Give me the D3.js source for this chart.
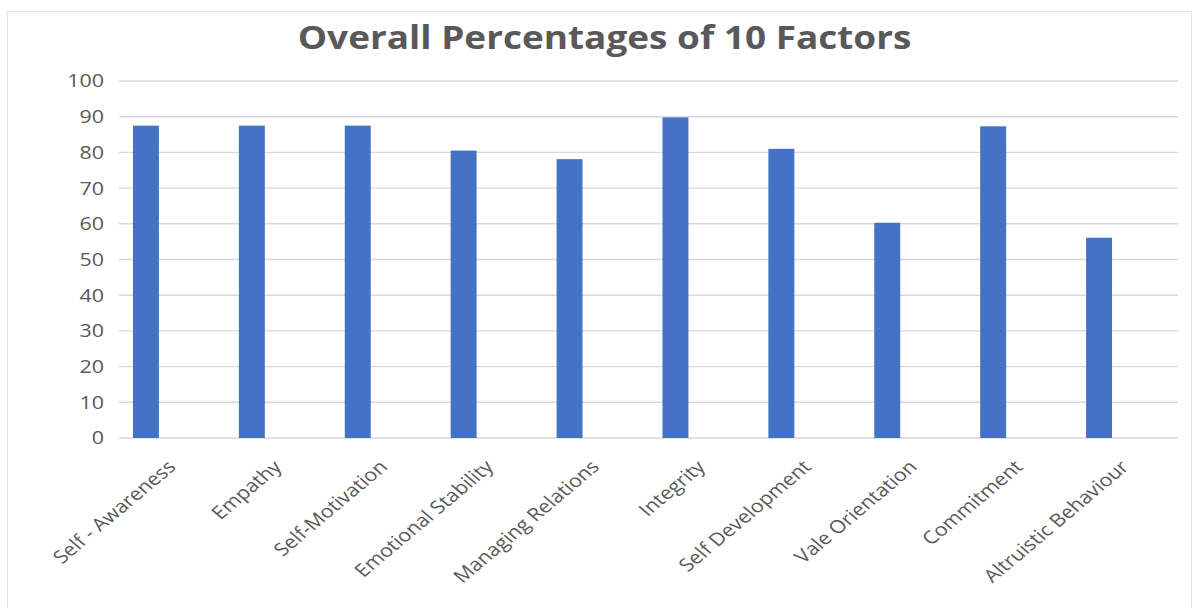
<!DOCTYPE html>
<html>
<head>
<meta charset="utf-8">
<script src="https://cdn.jsdelivr.net/npm/d3@7"></script>
<style>
  html, body { margin: 0; padding: 0; background: #ffffff; }
  svg { display: block; }
  text { font-family: "Open Sans", "Noto Sans", sans-serif; fill: #595959; }
</style>
</head>
<body>
<svg id="chart" width="1195" height="608"></svg>
<script>
// Factor names shown along the category axis
const categories = [
  "Self - Awareness", "Empathy", "Self-Motivation", "Emotional Stability",
  "Managing Relations", "Integrity", "Self Development", "Vale Orientation",
  "Commitment", "Altruistic Behaviour"
];
// Overall percentage for each factor
const percentages = [87.5, 87.5, 87.5, 80.5, 78.1, 89.8, 81.0, 60.3, 87.3, 56.1];
// Value axis ticks
const yTicks = [0, 10, 20, 30, 40, 50, 60, 70, 80, 90, 100];
const chartTitle = "Overall Percentages of 10 Factors";

// text is drawn slightly widened horizontally
const textStretch = 1.19;

const svg = d3.select("#chart");

// chart frame
svg.append("rect")
  .attr("x", 7.5).attr("y", 11.5)
  .attr("width", 1184).attr("height", 620)
  .attr("fill", "#ffffff")
  .attr("stroke", "#e3e3e3")
  .attr("stroke-width", 1);

const y = d3.scaleLinear().domain([0, 100]).range([438, 81]);

// category slots for gridlines and axis labels
const xAxisBand = d3.scaleBand().domain(categories).range([119, 1178]).padding(0);
// category slots for the columns
const xBars = d3.scaleBand().domain(categories).range([93, 1152]).padding(0);
const barWidth = xBars.bandwidth() * 0.245;

// horizontal gridlines
svg.append("g")
  .selectAll("line")
  .data(yTicks)
  .join("line")
  .attr("x1", xAxisBand.range()[0])
  .attr("x2", xAxisBand.range()[1])
  .attr("y1", d => y(d))
  .attr("y2", d => y(d))
  .attr("stroke", "#d9d9d9")
  .attr("stroke-width", 1.4);

// value axis labels
svg.append("g")
  .selectAll("text")
  .data(yTicks)
  .join("text")
  .attr("transform", d => `translate(104,${y(d)}) scale(${textStretch},1)`)
  .attr("text-anchor", "end")
  .attr("dy", "0.36em")
  .attr("font-size", 18)
  .text(d => d3.format("d")(d));

// columns
svg.append("g")
  .selectAll("rect")
  .data(categories.map((c, i) => ({ c, v: percentages[i] })))
  .join("rect")
  .attr("x", d => xBars(d.c) + (xBars.bandwidth() - barWidth) / 2)
  .attr("y", d => y(d.v))
  .attr("width", barWidth)
  .attr("height", d => y(0) - y(d.v))
  .attr("fill", "#4472c4");

// rotated category labels
svg.append("g")
  .selectAll("text")
  .data(categories)
  .join("text")
  .attr("transform", d => `translate(${xAxisBand(d) + xAxisBand.bandwidth() / 2 + 5},468) scale(${textStretch},1) rotate(-45)`)
  .attr("text-anchor", "end")
  .attr("font-size", 18)
  .text(d => d);

// title
svg.append("text")
  .attr("transform", `translate(604.5,49) scale(1.12,1)`)
  .attr("text-anchor", "middle")
  .attr("font-size", 33)
  .attr("font-weight", "bold")
  .text(chartTitle);
</script>
</body>
</html>
